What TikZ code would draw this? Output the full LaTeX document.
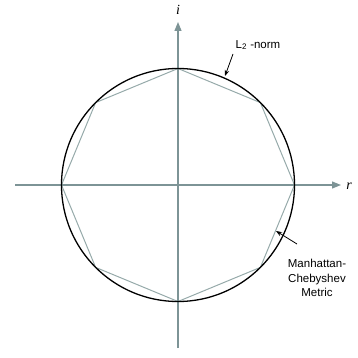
\documentclass[tikz,border=0pt]{standalone}
\usepackage{fontspec}
\setmainfont{Liberation Sans}
\newfontfamily\serifit{Liberation Serif}
\usetikzlibrary{arrows.meta,calc}
\definecolor{axisc}{RGB}{125,148,150}
\definecolor{octc}{RGB}{150,170,170}
\tikzset{
  axis/.style={draw=axisc, line width=1.2pt, -{Triangle[length=9pt,width=7pt]}},
  octo/.style={draw=octc, line width=1pt},
  circ/.style={draw=black, line width=1.3pt},
  lbl/.style={font=\fontsize{11.5}{14.5}\selectfont, align=center, inner sep=0pt},
  ax/.style={font=\serifit\itshape\fontsize{14}{14}\selectfont, inner sep=0pt},
  note/.style={draw=black, line width=0.8pt, -{Stealth[length=6pt,width=4.5pt]}}
}
\begin{document}
\begin{tikzpicture}[x=1pt,y=-1pt]
\useasboundingbox (0,0) rectangle (358,358);
\coordinate (c) at (178,185);
\coordinate (xl) at (15,185);
\coordinate (xr) at (341,185);
\coordinate (yt) at (178,22);
\coordinate (yb) at (178,348);
\draw[axis] (xl) -- (xr);
\draw[axis] (yb) -- (yt);
\node[ax] (r) at (349,186) {r};
\node[ax] (i) at (178,10) {i};
\draw[octo] ($(c)+(0:116.5)$) \foreach \a in {45,90,...,315} { -- ($(c)+(\a:116.5)$) } -- cycle;
\draw[circ] (c) circle[radius=116.5];
\node[lbl] (l2) at (258,45) {L\textsubscript{2} -norm};
\coordinate (l2t) at (233,54);
\coordinate (l2h) at (225,76);
\draw[note] (l2t) -- (l2h);
\node[lbl] (mc) at (317,278) {Manhattan-\\Chebyshev\\Metric};
\coordinate (mct) at (297,244);
\coordinate (mch) at (276,231);
\draw[note] (mct) -- (mch);
\end{tikzpicture}
\end{document}
